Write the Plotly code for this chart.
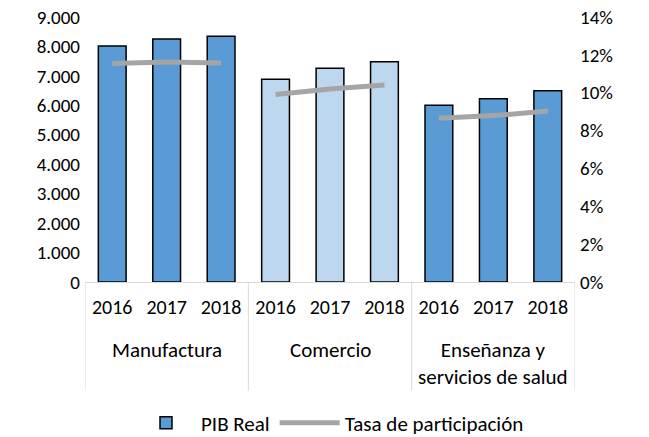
import plotly.graph_objects as go

sectors = ["Manufactura", "Comercio", "Enseñanza y<br>servicios de salud"]
years = ["2016", "2017", "2018"]
pib_real = {
    "Manufactura": [8015, 8253, 8344],
    "Comercio": [6884, 7257, 7482],
    "Enseñanza y<br>servicios de salud": [6000, 6226, 6497],
}
tasa = {
    "Manufactura": [0.1155, 0.1162, 0.1157],
    "Comercio": [0.0991, 0.1020, 0.1041],
    "Enseñanza y<br>servicios de salud": [0.0865, 0.0879, 0.0903],
}
bar_colors = {
    "Manufactura": "#5B9BD5",
    "Comercio": "#BDD7EE",
    "Enseñanza y<br>servicios de salud": "#5B9BD5",
}

FONT = "Calibri, Carlito, Lato, sans-serif"
GRID = "#D9D9D9"

x_keys = [f"{s}|{y}" for s in sectors for y in years]
x_text = [y for _ in sectors for y in years]
bar_vals = [v for s in sectors for v in pib_real[s]]
colors = [bar_colors[s] for s in sectors for _ in years]

fig = go.Figure()
fig.add_trace(go.Bar(
    x=x_keys, y=bar_vals, name="PIB Real",
    marker=dict(color=colors, line=dict(color="#000000", width=1.5)),
))
for i, s in enumerate(sectors):
    fig.add_trace(go.Scatter(
        x=[f"{s}|{y}" for y in years], y=tasa[s], yaxis="y2", mode="lines",
        name="Tasa de participación", legendgroup="tasa", showlegend=(i == 0),
        line=dict(color="#A5A5A5", width=5),
    ))

# group labels and dividers
n = len(years)
for i, s in enumerate(sectors):
    fig.add_annotation(x=i * n + (n - 1) / 2, xref="x", y=-0.2, yref="paper",
                       text=s, showarrow=False, yanchor="top", xanchor="center",
                       font=dict(size=21, family=FONT, color="#000000"))
for i in range(len(sectors) + 1):
    fig.add_shape(type="line", xref="x", yref="paper", x0=i * n - 0.5, x1=i * n - 0.5,
                  y0=0, y1=-0.41, line=dict(color=GRID, width=1))

fig.update_layout(
    width=649, height=437,
    margin=dict(l=85, r=74, t=17, b=155, autoexpand=False),
    paper_bgcolor="white", plot_bgcolor="white",
    separators=",.",
    font=dict(family=FONT, size=19, color="#000000"),
    bargap=0.49,
    showlegend=True,
    legend=dict(orientation="h", x=0.5, xanchor="center", y=-0.532, yanchor="middle",
                font=dict(size=21), traceorder="normal", itemwidth=60),
    xaxis=dict(type="category", tickvals=x_keys, ticktext=x_text,
               range=[-0.5, len(x_keys) - 0.5],
               showline=True, linecolor=GRID, linewidth=1,
               tickfont=dict(size=20), ticks="", showgrid=False, automargin=False,
               ticklabelstandoff=7),
    yaxis=dict(range=[0, 9000], dtick=1000, tickformat=",d", showgrid=False,
               zeroline=False, ticks="", showline=False, automargin=False,
               ticklabelstandoff=4, ticklabeloverflow="allow"),
    yaxis2=dict(range=[0, 0.14], dtick=0.02, tickformat=".0%", overlaying="y",
                side="right", showgrid=False, zeroline=False, ticks="", showline=False,
                automargin=False, ticklabelstandoff=4, ticklabeloverflow="allow"),
)

fig.write_html("out.html", config={"displayModeBar": False},
               post_script="document.body.style.margin='0';document.body.style.overflow='hidden';")
